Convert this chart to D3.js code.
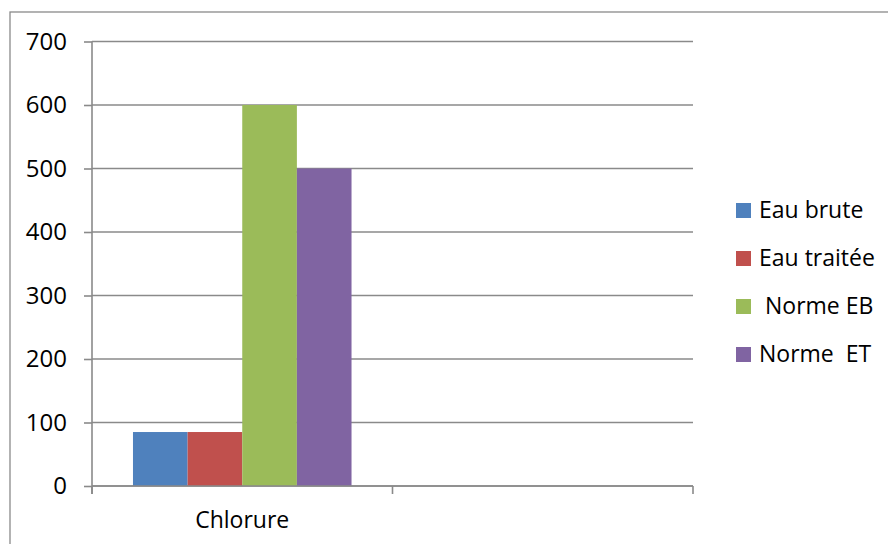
<!DOCTYPE html>
<html>
<head>
<meta charset="utf-8">
<script src="https://cdn.jsdelivr.net/npm/d3@7"></script>
<style>
  html, body { margin: 0; padding: 0; background: #fff; }
  svg { display: block; }
  text { font-family: "Open Sans", "Noto Sans", sans-serif; fill: #000; white-space: pre; }
</style>
</head>
<body>
<svg id="chart" width="888" height="544"></svg>
<script>
// Categories on the x axis (second slot is empty)
const categories = ["Chlorure", " "];
// Series names as shown in the legend
const seriesNames = ["Eau brute", "Eau traitée", " Norme EB", "Norme  ET"];
// Values per series, one entry per category
const eauBrute   = [85, null];
const eauTraitee = [85, null];
const normeEB    = [600, null];
const normeET    = [500, null];
const seriesValues = [eauBrute, eauTraitee, normeEB, normeET];
const seriesColors = ["#4F81BD", "#C0504D", "#9BBB59", "#8064A2"];
// Y-axis ticks
const yTicks = [0, 100, 200, 300, 400, 500, 600, 700];

const svg = d3.select("#chart");
const gridColor = "#8a8a8a";

// Chart frame
svg.append("rect")
  .attr("x", 10).attr("y", 12)
  .attr("width", 890).attr("height", 540)
  .attr("fill", "none").attr("stroke", gridColor).attr("stroke-width", 1.3);

const plot = { left: 92, right: 693, top: 41.5, bottom: 486 };

const y = d3.scaleLinear().domain([0, 700]).range([plot.bottom, plot.top]);
const x0 = d3.scaleBand().domain(categories).range([plot.left, plot.right]).padding(0);
const x1 = d3.scaleBand().domain(seriesNames).range([0, x0.bandwidth()])
  .paddingInner(0).paddingOuter(0.75);

// Horizontal gridlines
svg.append("g").selectAll("line").data(yTicks).join("line")
  .attr("x1", plot.left).attr("x2", plot.right)
  .attr("y1", d => y(d)).attr("y2", d => y(d))
  .attr("stroke", gridColor).attr("stroke-width", 1.6);

// Y axis with outside ticks
const yAxis = svg.append("g")
  .attr("transform", `translate(${plot.left},0)`)
  .call(d3.axisLeft(y).tickValues(yTicks).tickSize(8).tickPadding(17).tickFormat(d3.format("d")));
yAxis.select(".domain").remove();
yAxis.selectAll(".tick line").attr("stroke", gridColor).attr("stroke-width", 1.6);
yAxis.selectAll(".tick text")
  .style("font-family", "\"Open Sans\", sans-serif").style("font-size", "24px").attr("fill", "#000");
svg.append("line")
  .attr("x1", plot.left).attr("x2", plot.left)
  .attr("y1", plot.top).attr("y2", plot.bottom + 8)
  .attr("stroke", gridColor).attr("stroke-width", 1.6);

// Bars
const barData = [];
categories.forEach((c, ci) => {
  seriesNames.forEach((s, si) => {
    const v = seriesValues[si][ci];
    if (v != null) barData.push({ c, s, v, color: seriesColors[si] });
  });
});
svg.append("g").selectAll("rect").data(barData).join("rect")
  .attr("x", d => x0(d.c) + x1(d.s))
  .attr("width", x1.bandwidth())
  .attr("y", d => y(d.v))
  .attr("height", d => y(0) - y(d.v))
  .attr("fill", d => d.color);

// X axis: baseline, tick marks between categories, labels centred
svg.append("line")
  .attr("x1", plot.left).attr("x2", plot.right)
  .attr("y1", y(0)).attr("y2", y(0))
  .attr("stroke", gridColor).attr("stroke-width", 1.6);
const tickXs = categories.map(c => x0(c)).concat([x0(categories[categories.length - 1]) + x0.bandwidth()]);
svg.append("g").selectAll("line").data(tickXs).join("line")
  .attr("x1", d => d).attr("x2", d => d)
  .attr("y1", y(0)).attr("y2", y(0) + 8)
  .attr("stroke", gridColor).attr("stroke-width", 1.6);
svg.append("g").selectAll("text").data(categories).join("text")
  .attr("x", d => x0(d) + x0.bandwidth() / 2)
  .attr("y", 528)
  .attr("text-anchor", "middle")
  .style("font-size", "23px")
  .text(d => d);

// Legend
const legend = svg.append("g").attr("transform", "translate(736,218)");
const rows = legend.selectAll("g").data(seriesNames).join("g")
  .attr("transform", (d, i) => `translate(0,${i * 48})`);
rows.append("rect")
  .attr("x", 0).attr("y", -15).attr("width", 15).attr("height", 15)
  .attr("fill", (d, i) => seriesColors[i]);
rows.append("text")
  .attr("x", 23).attr("y", 0)
  .style("font-size", "23px")
  .text(d => d);
</script>
</body>
</html>
